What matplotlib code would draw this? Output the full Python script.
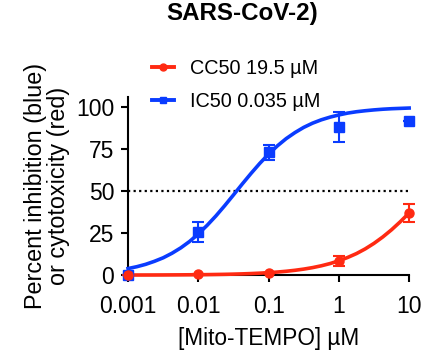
import numpy as np
import matplotlib
matplotlib.use("Agg")
import matplotlib.pyplot as plt

plt.rcParams['font.family'] = ['Liberation Sans', 'DejaVu Sans']

red = '#FF2A12'
blue = '#0A3CFF'

# measured points
conc = [0.001, 0.01, 0.1, 1, 10]
ic_mean = [0.0, 25.5, 73.0, 88.0, 91.8]
ic_err = [0.0, 6.0, 4.3, 8.8, 0.0]
cc_mean = [0.0, 0.5, 1.5, 8.3, 37.0]
cc_err = [0.0, 0.0, 0.0, 3.0, 5.4]

# fitted curves (log10 of concentration, 1/8 decade steps)
fit_logx = [-3, -2.875, -2.75, -2.625, -2.5, -2.375, -2.25, -2.125,
            -2, -1.875, -1.75, -1.625, -1.5, -1.375, -1.25, -1.125,
            -1, -0.875, -0.75, -0.625, -0.5, -0.375, -0.25, -0.125,
            0, 0.125, 0.25, 0.375, 0.5, 0.625, 0.75, 0.875, 1]
ic_fit = [3.9, 5.0, 6.4, 8.2, 10.3, 13.0, 16.2, 20.0,
          24.5, 29.6, 35.2, 41.3, 47.7, 54.2, 60.5, 66.5,
          72.0, 76.9, 81.2, 84.8, 87.9, 90.4, 92.4, 94.0,
          95.3, 96.4, 97.2, 97.8, 98.3, 98.7, 99.0, 99.2, 99.4]
cc_fit = [0.04, 0.05, 0.06, 0.07, 0.09, 0.12, 0.15, 0.19,
          0.23, 0.29, 0.37, 0.46, 0.58, 0.73, 0.92, 1.16,
          1.45, 1.82, 2.28, 2.86, 3.57, 4.45, 5.54, 6.87,
          8.5, 10.5, 12.8, 15.6, 18.9, 22.7, 27.0, 31.8, 37.0]

fig = plt.figure(figsize=(4.24, 3.5), dpi=100)
ax = fig.add_axes([0.302, 0.214, 0.663, 0.509])

fit_x = [10 ** v for v in fit_logx]
ax.plot(fit_x, ic_fit, color=blue, lw=2.6, clip_on=False, zorder=3)
ax.plot(fit_x, cc_fit, color=red, lw=2.6, clip_on=False, zorder=3)

ax.errorbar(conc, ic_mean, yerr=ic_err, fmt='s', color=blue, ms=6.5,
            capsize=4, elinewidth=1.5, capthick=1.5, clip_on=False, zorder=4)
ax.errorbar(conc, cc_mean, yerr=cc_err, fmt='o', color=red, ms=6.5,
            capsize=4, elinewidth=1.5, capthick=1.5, clip_on=False, zorder=4)

ax.axhline(50, color='black', ls=(0, (1, 1.5)), lw=1.6, zorder=2)

ax.set_xscale('log')
ax.set_xlim(0.001, 10)
ax.set_ylim(0, 106)
ax.set_xticks(conc)
ax.set_xticklabels(['0.001', '0.01', '0.1', '1', '10'])
ax.xaxis.set_minor_locator(matplotlib.ticker.NullLocator())
ax.set_yticks([0, 25, 50, 75, 100])

for s in ['top', 'right']:
    ax.spines[s].set_visible(False)
for s in ['left', 'bottom']:
    ax.spines[s].set_linewidth(1.5)
ax.tick_params(width=1.5, length=5, labelsize=16.5)
ax.tick_params(axis='x', pad=9)
ax.tick_params(axis='y', pad=5)

ax.set_xlabel('[Mito-TEMPO] µM', fontsize=16.3, labelpad=7)
ax.set_ylabel('Percent inhibition (blue)\nor cytotoxicity (red)',
              fontsize=16.8, linespacing=1.0, labelpad=4)

fig.text(0.572, 0.961, 'SARS-CoV-2)', fontsize=17.4, fontweight='bold',
         ha='center', va='center')

h1, = ax.plot([], [], color=red, lw=2.8, marker='o', ms=5)
h2, = ax.plot([], [], color=blue, lw=2.8, marker='s', ms=5)
fig.legend([h1, h2], ['CC50 19.5 µM', 'IC50 0.035 µM'], loc='upper left',
           bbox_to_anchor=(0.34, 0.855), frameon=False, fontsize=14.3,
           handlelength=1.1, handletextpad=0.8, labelspacing=0.7,
           borderaxespad=0)

fig.savefig('out.png', dpi=100)
